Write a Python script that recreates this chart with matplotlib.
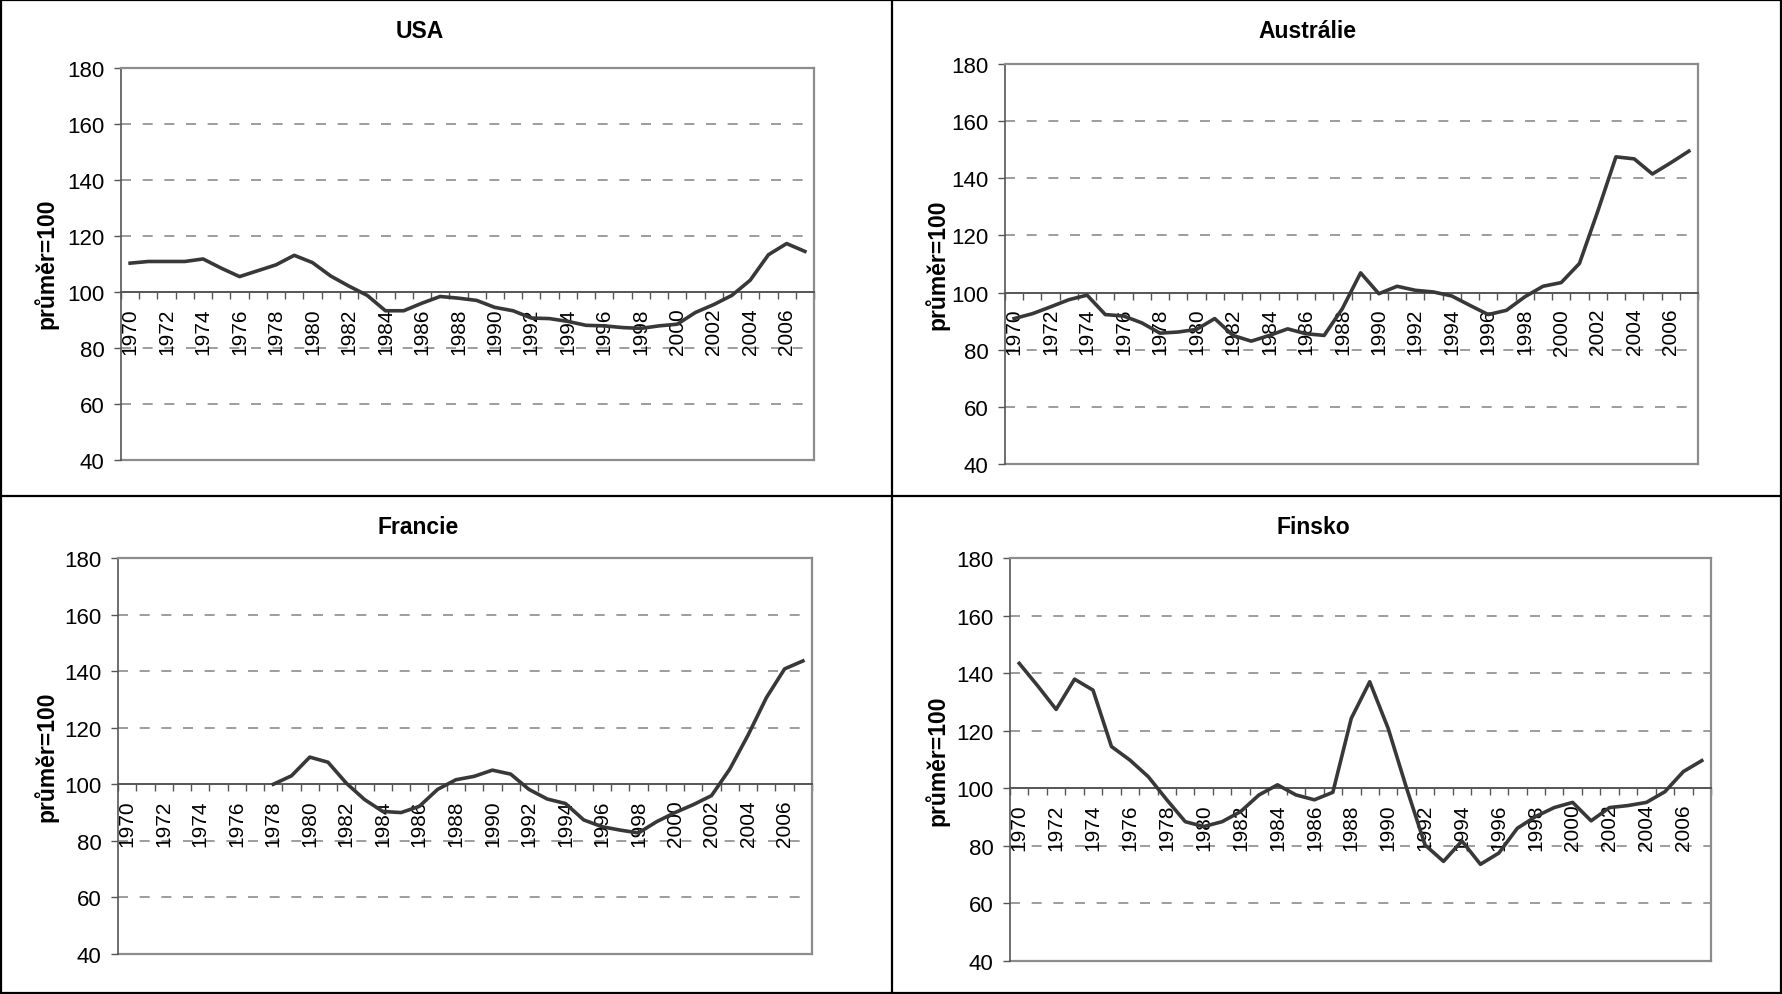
import numpy as np
import matplotlib
matplotlib.use("Agg")
import matplotlib.pyplot as plt
from matplotlib.lines import Line2D

plt.rcParams['font.family'] = ['Liberation Sans', 'DejaVu Sans']

# --- data ---
years = list(range(1970, 2008))

usa = [110.3, 110.9, 110.9, 110.9, 111.8, 108.5, 105.5, 107.6, 109.7, 113.1,
       110.5, 105.7, 102.1, 98.8, 93.3, 93.3, 96.0, 98.4, 97.8, 97.0,
       94.5, 93.3, 90.7, 90.5, 89.5, 88.1, 87.9, 87.3, 87.0, 87.9,
       88.5, 92.7, 95.5, 98.8, 104.2, 113.3, 117.3, 114.5]

australia = [90.9, 92.6, 95.0, 97.5, 99.1, 92.3, 91.8, 89.4, 85.8, 86.2,
             87.1, 90.9, 85.0, 83.0, 85.0, 87.3, 85.6, 85.0, 94.4, 106.9,
             99.6, 102.2, 100.8, 100.2, 98.8, 95.5, 92.3, 93.8, 98.5, 102.2,
             103.5, 110.2, 128.4, 147.5, 146.8, 141.5, 145.4, 149.5]

# no data before 1978
france = [None] * 8 + [100.0, 103.0,
          109.6, 107.8, 100.4, 94.6, 90.4, 90.0, 92.2, 98.2, 101.6, 102.8,
          105.0, 103.6, 98.2, 94.8, 93.2, 87.4, 85.0, 83.8, 82.8, 86.8,
          90.0, 92.8, 96.0, 105.4, 117.4, 130.6, 140.8, 143.6]

finland = [143.4, 135.6, 127.4, 137.9, 134.1, 114.5, 109.8, 104.0, 96.0, 88.4,
           86.7, 88.4, 91.9, 97.7, 101.2, 97.7, 96.0, 98.6, 124.3, 137.0,
           120.8, 100.0, 80.3, 74.6, 81.7, 73.6, 77.5, 86.1, 90.2, 93.3,
           95.1, 88.7, 93.3, 94.0, 95.1, 98.8, 105.8, 109.6]

titles = ["USA", "Austrálie", "Francie", "Finsko"]
ylabel = "průměr=100"
yticks = [40, 60, 80, 100, 120, 140, 160, 180]
dashed_levels = [60, 80, 120, 140, 160]

W, H = 1782, 995
fig = plt.figure(figsize=(W / 100, H / 100), dpi=100)
fig.patch.set_facecolor('white')

BORDER = '#8c8c8c'
AXIS = '#555555'
LINE = '#383838'


def px_rect(left, top, right, bottom):
    return [left / W, 1 - bottom / H, (right - left) / W, (bottom - top) / H]


def draw_panel(rect, values, title, title_xy, ylab_xy):
    ax = fig.add_axes(rect)
    x = np.arange(len(years))
    y = np.array([np.nan if v is None else v for v in values], dtype=float)

    ax.set_xlim(-0.5, len(years) - 0.5)
    ax.set_ylim(40, 180)

    for lvl in dashed_levels:
        ax.axhline(lvl, color=BORDER, lw=1.2, ls=(0, (6, 7)), zorder=1)
    ax.axhline(40, color=BORDER, lw=1.6, zorder=1, clip_on=False)

    ax.plot(x, y, color=LINE, lw=2.6, zorder=4)

    for s in ['top', 'right']:
        ax.spines[s].set_color(BORDER)
        ax.spines[s].set_linewidth(1.6)
    ax.spines['left'].set_color(AXIS)
    ax.spines['left'].set_linewidth(1.2)
    ax.spines['bottom'].set_position(('data', 100))
    ax.spines['bottom'].set_color(AXIS)
    ax.spines['bottom'].set_linewidth(1.4)

    ax.set_yticks(yticks)
    ax.tick_params(axis='y', direction='out', length=5, width=1, color=AXIS,
                   labelsize=16, pad=7)

    # category ticks between years, labels on every other year
    ax.set_xticks(np.arange(-0.5, len(years), 1.0))
    ax.set_xticklabels([])
    ax.tick_params(axis='x', which='major', direction='out', length=5,
                   width=1, color=AXIS)
    ax.set_xticks(x[::2], minor=True)
    ax.set_xticklabels([str(v) for v in years[::2]], minor=True, rotation=90)
    ax.tick_params(axis='x', which='minor', length=0, labelsize=15, pad=11)

    fig.text(title_xy[0] / W, 1 - title_xy[1] / H, title, ha='center',
             va='center', fontsize=16.5, fontweight='bold')
    fig.text(ylab_xy[0] / W, 1 - ylab_xy[1] / H, ylabel, ha='center',
             va='center', rotation=90, fontsize=16.5, fontweight='bold')
    return ax


draw_panel(px_rect(121, 69, 814, 461), usa, titles[0], (420, 32), (46, 264))
draw_panel(px_rect(1005, 65, 1698, 465), australia, titles[1], (1307, 32), (937, 265))
draw_panel(px_rect(118, 559, 812, 955), france, titles[2], (418, 527), (46, 757))
draw_panel(px_rect(1010, 559, 1711, 962), finland, titles[3], (1313, 528), (937, 761))

# panel frame lines
for xs, ys in [([0, 1], [0.999, 0.999]), ([0, 1], [0.001, 0.001]),
               ([0.0006, 0.0006], [0, 1]), ([0.9994, 0.9994], [0, 1]),
               ([892 / W, 892 / W], [0, 1]), ([0, 1], [1 - 497 / H, 1 - 497 / H])]:
    fig.add_artist(Line2D(xs, ys, transform=fig.transFigure, color='black', lw=1.6))

fig.savefig("out.png", dpi=100)
